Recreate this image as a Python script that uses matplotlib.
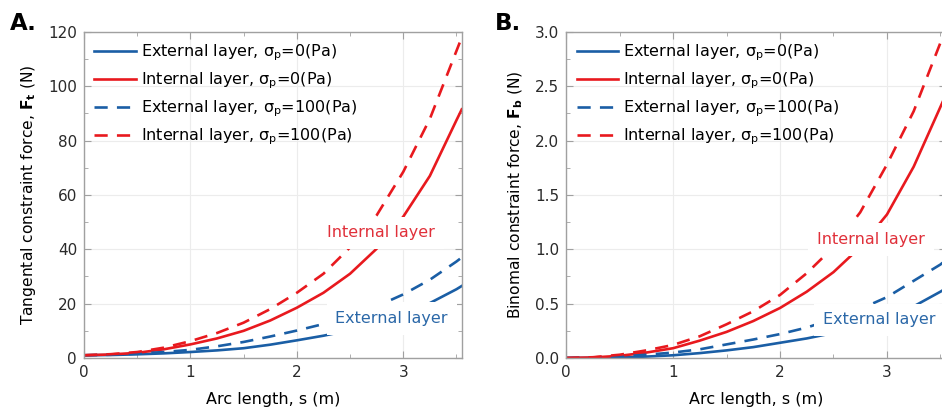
import numpy as np
import matplotlib.pyplot as plt

plt.rcParams['font.family'] = ['DejaVu Sans']
plt.rcParams['mathtext.fontset'] = 'dejavusans'

# arc length samples (m)
s = [0, 0.25, 0.5, 0.75, 1.0, 1.25, 1.5, 1.75, 2.0, 2.25, 2.5, 2.75, 3.0, 3.25, 3.5, 3.55]

# panel A: tangential constraint force (N)
ft_ext_0 = [1.0, 1.1, 1.35, 1.7, 2.2, 2.8, 3.6, 4.9, 6.5, 8.2, 10.2, 12.8, 16.1, 20.2, 25.3, 26.5]
ft_int_0 = [1.0, 1.3, 1.9, 3.2, 5.0, 7.2, 10.0, 13.8, 18.5, 24.0, 31.0, 40.2, 52.0, 67.0, 87.5, 91.5]
ft_ext_100 = [1.0, 1.2, 1.6, 2.2, 3.0, 4.3, 5.9, 7.9, 10.1, 12.5, 15.4, 19.0, 23.4, 28.8, 35.5, 37.0]
ft_int_100 = [1.0, 1.4, 2.2, 3.8, 6.2, 9.2, 13.0, 18.0, 24.0, 31.0, 40.7, 52.5, 68.5, 88.0, 113.0, 118.0]

# panel B: binomal constraint force (N)
fb_ext_0 = [0, 0.002, 0.006, 0.013, 0.025, 0.045, 0.07, 0.10, 0.14, 0.18, 0.23, 0.29, 0.37, 0.475, 0.61, 0.64]
fb_int_0 = [0, 0.005, 0.02, 0.05, 0.09, 0.16, 0.24, 0.34, 0.46, 0.61, 0.79, 1.02, 1.32, 1.76, 2.31, 2.42]
fb_ext_100 = [0, 0.003, 0.012, 0.03, 0.05, 0.08, 0.125, 0.17, 0.22, 0.28, 0.36, 0.45, 0.56, 0.71, 0.86, 0.90]
fb_int_100 = [0, 0.007, 0.03, 0.07, 0.12, 0.20, 0.31, 0.43, 0.58, 0.78, 1.02, 1.34, 1.78, 2.27, 2.90, 3.05]

red = '#e8191e'
blue = '#1a5ea5'

fig = plt.figure(figsize=(9.42, 4.17), dpi=100)
axA = fig.add_axes([0.0892, 0.1415, 0.401, 0.782])
axB = fig.add_axes([0.601, 0.1415, 0.403, 0.782])


def style_axes(ax, ymax, ystep, yminor, ylabel):
    ax.set_xlim(0, 3.55)
    ax.set_ylim(0, ymax)
    ax.set_xticks([0, 1, 2, 3])
    ax.set_xticks(np.arange(0.5, 3.6, 1.0), minor=True)
    ax.set_yticks(np.arange(0, ymax + ystep / 2, ystep))
    ax.set_yticks(np.arange(yminor, ymax, ystep), minor=True)
    ax.grid(True, which='major', color='#ececec', lw=0.8)
    ax.set_axisbelow(True)
    for sp in ax.spines.values():
        sp.set_color('#a0a0a0')
        sp.set_linewidth(1.0)
    ax.tick_params(which='both', direction='in', color='#a0a0a0', top=True, right=True,
                   labelsize=11, labelcolor='#2a2a2a', pad=5)
    ax.tick_params(which='major', length=5)
    ax.tick_params(which='minor', length=3)
    ax.set_xlabel('Arc length, s (m)', fontsize=11.5, labelpad=9)
    ax.set_ylabel(ylabel, fontsize=11.2, labelpad=7)


def draw(ax, e0, i0, e100, i100):
    ax.plot(s, e0, color=blue, lw=1.9, label='External layer, σ$_\\mathrm{p}$=0(Pa)')
    ax.plot(s, i0, color=red, lw=1.9, label='Internal layer, σ$_\\mathrm{p}$=0(Pa)')
    ax.plot(s, e100, color=blue, lw=1.9, dashes=(5, 3.5), label='External layer, σ$_\\mathrm{p}$=100(Pa)')
    ax.plot(s, i100, color=red, lw=1.9, dashes=(5, 3.5), label='Internal layer, σ$_\\mathrm{p}$=100(Pa)')
    ax.legend(loc='upper left', frameon=False, fontsize=11.5, handlelength=2.6,
              handletextpad=0.3, labelspacing=0.47, borderaxespad=0.25)


def tag(ax, x, y, txt, col):
    ax.text(x, y, txt, color=col, fontsize=11.5, ha='center', va='center', zorder=4,
            bbox=dict(facecolor='white', edgecolor='none', boxstyle='square,pad=0.55'))


draw(axA, ft_ext_0, ft_int_0, ft_ext_100, ft_int_100)
style_axes(axA, 120, 20, 10, r'Tangental constraint force, $\mathbf{F_t}$ (N)')
tag(axA, 2.79, 46, 'Internal layer', '#e0303a')
tag(axA, 2.89, 14.5, 'External layer', '#2b68a8')

draw(axB, fb_ext_0, fb_int_0, fb_ext_100, fb_int_100)
style_axes(axB, 3.0, 0.5, 0.25, r'Binomal constraint force, $\mathbf{F_b}$ (N)')
axB.set_yticklabels(['0.0', '0.5', '1.0', '1.5', '2.0', '2.5', '3.0'])
tag(axB, 2.85, 1.09, 'Internal layer', '#e0303a')
tag(axB, 2.93, 0.35, 'External layer', '#2b68a8')

fig.text(0.0106, 0.928, 'A.', fontsize=16.5, fontweight='bold', va='baseline')
fig.text(0.5255, 0.928, 'B.', fontsize=16.5, fontweight='bold', va='baseline')

fig.savefig('out.png', dpi=100)
